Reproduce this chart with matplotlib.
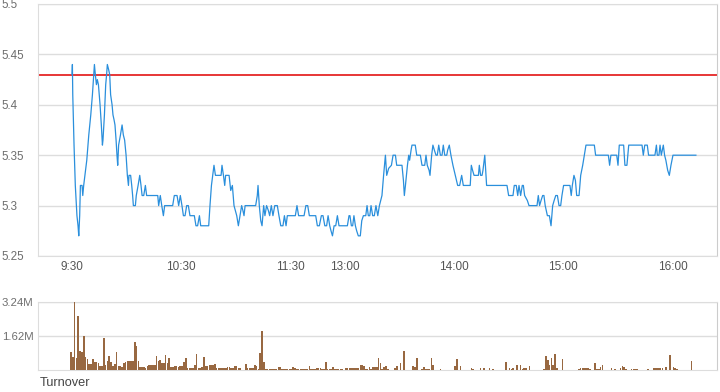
import matplotlib.pyplot as plt

plt.rcParams['font.family'] = ['Liberation Sans', 'DejaVu Sans']

# minutes since 9:30, lunch break removed (150 = 13:00)
price_minutes = [
    0, 0.2, 0.4, 1.1, 1.8, 2.7, 3.3, 3.7, 4.2, 4.6, 5.5, 5.9, 6.4, 7.1, 8.1, 9.2, 10.3, 11.2, 11.9, 12.3,
    12.8, 13.4, 13.9, 14.5, 15.4, 16.1, 16.7, 17.0, 17.8, 18.5, 19.0, 19.4, 20.1, 20.7, 21.2, 22.0, 22.5, 23.1, 23.6, 24.2,
    24.7, 25.1, 25.6, 26.6, 27.5, 28.2, 28.9, 29.7, 30.4, 31.0, 31.3, 32.2, 32.8, 33.3, 33.7, 34.8, 35.3, 36.3, 37.2, 37.9,
    38.5, 39.4, 40.3, 41.0, 47.1, 47.6, 48.5, 49.3, 50.2, 50.9, 55.3, 56.2, 57.7, 58.6, 59.5, 60.4, 61.2, 62.1, 63.0, 63.9,
    64.8, 67.2, 68.1, 69.0, 70.0, 70.7, 75.1, 75.8, 76.6, 77.3, 78.0, 78.8, 81.9, 82.4, 83.2, 83.9, 84.4, 86.3, 87.2, 88.1,
    89.0, 90.5, 91.4, 92.3, 93.2, 93.9, 94.5, 95.1, 100.9, 101.8, 102.2, 102.9, 103.7, 104.4, 105.3, 106.0, 106.9, 107.9, 108.6, 109.5,
    110.4, 111.4, 112.8, 113.7, 114.7, 115.9, 116.7, 117.6, 118.3, 122.7, 123.6, 124.5, 127.5, 128.5, 129.5, 130.4, 133.9, 134.8, 135.9, 137.0,
    137.9, 138.9, 139.9, 140.7, 141.6, 142.3, 143.1, 144.0, 144.9, 145.8, 146.7, 151.3, 152.2, 152.7, 153.5, 154.2, 154.9, 155.7, 156.4, 157.3,
    158.4, 159.2, 160.1, 161.4, 162.1, 162.8, 163.6, 164.3, 165.2, 166.1, 167.0, 168.0, 168.9, 169.6, 170.3, 171.2, 172.2, 172.9, 174.0, 175.5,
    176.4, 177.7, 178.4, 181.3, 182.1, 182.6, 183.2, 184.3, 185.0, 185.5, 186.3, 186.8, 188.6, 189.4, 191.4, 192.3, 193.8, 194.5, 195.2, 196.2,
    196.7, 197.6, 198.3, 199.1, 200.0, 200.7, 201.5, 202.4, 203.3, 204.0, 204.8, 205.9, 206.4, 207.3, 208.2, 209.3, 210.6, 211.9, 213.0, 214.1,
    215.0, 218.8, 219.4, 220.1, 220.9, 223.3, 223.8, 224.5, 225.3, 225.8, 226.8, 227.8, 239.0, 239.9, 242.3, 243.0, 244.1, 244.9, 245.6, 246.5,
    247.4, 248.0, 248.7, 250.2, 251.1, 255.5, 256.2, 256.9, 257.7, 258.6, 259.3, 260.0, 261.2, 262.3, 263.2, 264.1, 264.9, 265.8, 266.7, 267.6,
    268.5, 269.2, 270.1, 273.6, 274.3, 274.9, 275.8, 276.6, 277.3, 278.6, 279.5, 280.6, 281.5, 282.4, 287.0, 287.7, 294.7, 295.4, 296.1, 299.3,
    300.0, 300.7, 303.1, 303.8, 304.9, 305.9, 313.2, 313.9, 314.7, 316.1, 316.8, 320.3, 321.1, 321.6, 322.5, 323.1, 323.8, 324.9, 325.6, 326.3,
    327.3, 328.2, 329.1, 330.2, 342.8,
]
prices = [
    5.43, 5.44, 5.41, 5.36, 5.32, 5.29, 5.28, 5.27, 5.29, 5.32, 5.32, 5.31, 5.32, 5.33, 5.345, 5.37, 5.39, 5.41, 5.43, 5.44,
    5.43, 5.42, 5.425, 5.42, 5.40, 5.38, 5.36, 5.365, 5.39, 5.42, 5.43, 5.44, 5.435, 5.43, 5.41, 5.40, 5.39, 5.385, 5.38, 5.365,
    5.35, 5.34, 5.36, 5.37, 5.38, 5.37, 5.365, 5.35, 5.33, 5.32, 5.33, 5.33, 5.32, 5.31, 5.30, 5.30, 5.31, 5.32, 5.33, 5.32,
    5.31, 5.31, 5.32, 5.31, 5.31, 5.30, 5.31, 5.30, 5.29, 5.30, 5.30, 5.31, 5.31, 5.30, 5.31, 5.30, 5.29, 5.29, 5.30, 5.30,
    5.29, 5.29, 5.28, 5.28, 5.29, 5.28, 5.28, 5.30, 5.32, 5.33, 5.34, 5.33, 5.33, 5.34, 5.33, 5.32, 5.33, 5.33, 5.315, 5.32,
    5.30, 5.29, 5.28, 5.29, 5.30, 5.295, 5.29, 5.30, 5.30, 5.31, 5.32, 5.30, 5.285, 5.28, 5.30, 5.29, 5.30, 5.295, 5.29, 5.30,
    5.29, 5.30, 5.30, 5.29, 5.28, 5.28, 5.29, 5.28, 5.29, 5.29, 5.30, 5.29, 5.29, 5.30, 5.30, 5.29, 5.29, 5.28, 5.28, 5.29,
    5.29, 5.28, 5.28, 5.29, 5.28, 5.275, 5.27, 5.28, 5.28, 5.29, 5.28, 5.28, 5.29, 5.29, 5.28, 5.28, 5.29, 5.28, 5.275, 5.27,
    5.27, 5.285, 5.29, 5.29, 5.30, 5.29, 5.29, 5.30, 5.29, 5.29, 5.30, 5.29, 5.30, 5.305, 5.31, 5.33, 5.35, 5.33, 5.337, 5.34,
    5.35, 5.35, 5.34, 5.34, 5.325, 5.31, 5.32, 5.34, 5.35, 5.345, 5.355, 5.36, 5.36, 5.35, 5.35, 5.34, 5.34, 5.35, 5.34, 5.335,
    5.33, 5.35, 5.36, 5.355, 5.35, 5.35, 5.36, 5.35, 5.35, 5.36, 5.35, 5.35, 5.355, 5.36, 5.35, 5.34, 5.33, 5.32, 5.32, 5.33,
    5.32, 5.32, 5.34, 5.335, 5.33, 5.33, 5.34, 5.33, 5.33, 5.335, 5.35, 5.32, 5.32, 5.31, 5.31, 5.32, 5.32, 5.31, 5.32, 5.31,
    5.32, 5.32, 5.31, 5.305, 5.30, 5.30, 5.31, 5.30, 5.305, 5.31, 5.31, 5.30, 5.29, 5.29, 5.28, 5.30, 5.305, 5.31, 5.31, 5.30,
    5.30, 5.31, 5.32, 5.32, 5.31, 5.32, 5.33, 5.325, 5.31, 5.31, 5.33, 5.34, 5.35, 5.36, 5.36, 5.35, 5.35, 5.34, 5.35, 5.35,
    5.34, 5.36, 5.36, 5.34, 5.34, 5.36, 5.36, 5.35, 5.36, 5.36, 5.35, 5.35, 5.36, 5.35, 5.35, 5.36, 5.35, 5.36, 5.35, 5.345,
    5.335, 5.33, 5.34, 5.35, 5.35,
]
prev_close = 5.43

# turnover per minute, in millions
turnover = [
    0.86, 0.64, 3.24, 0.56, 2.59, 0.91, 0.85, 1.63, 0.61, 0.53,
    0.29, 0.29, 0.53, 0.40, 0.40, 0.35, 0.19, 0.20, 1.53, 0.24,
    0.45, 0.67, 0.40, 0.19, 0.29, 0.86, 0.19, 0.19, 0.16, 0.32,
    0.40, 0.43, 0.43, 0.43, 0.43, 1.34, 1.15, 0.43, 0.13, 0.13,
    0.16, 0.11, 0.19, 0.24, 0.24, 0.24, 0.24, 0.65, 0.43, 0.48,
    0.32, 0.32, 0.70, 0.32, 0.56, 0.16, 0.16, 0.19, 0.19, 0.16,
    0.19, 0.19, 0.40, 0.56, 0.11, 0.11, 0.11, 0.11, 0.24, 0.77,
    0.11, 0.11, 0.16, 0.64, 0.19, 0.19, 0.24, 0.24, 0.24, 0.29,
    0.11, 0.10, 0.10, 0.11, 0.11, 0.11, 0.16, 0.16, 0.11, 0.11,
    0.21, 0.21, 0.08, 0.08, 0.00, 0.00, 0.29, 0.08, 0.08, 0.08,
    0.08, 0.22, 0.18, 0.05, 0.81, 1.87, 0.40, 0.05, 0.04, 0.04,
    0.04, 0.04, 0.04, 0.04, 0.13, 0.13, 0.04, 0.04, 0.04, 0.04,
    0.04, 0.04, 0.13, 0.08, 0.04, 0.04, 0.04, 0.03, 0.03, 0.03,
    0.03, 0.19, 0.04, 0.04, 0.04, 0.10, 0.10, 0.10, 0.03, 0.03,
    0.38, 0.03, 0.03, 0.03, 0.13, 0.03, 0.06, 0.06, 0.06, 0.06,
    0.00, 0.10, 0.10, 0.10, 0.10, 0.10, 0.10, 0.10, 0.10, 0.26,
    0.26, 0.20, 0.07, 0.07, 0.15, 0.04, 0.16, 0.16, 0.16, 0.56,
    0.33, 0.07, 0.16, 0.20, 0.07, 0.02, 0.02, 0.02, 0.10, 0.20,
    0.02, 0.31, 0.00, 0.90, 0.02, 0.00, 0.00, 0.02, 0.21, 0.13,
    0.56, 0.02, 0.02, 0.07, 0.16, 0.07, 0.07, 0.07, 0.56, 0.26,
    0.02, 0.02, 0.02, 0.07, 0.02, 0.00, 0.00, 0.00, 0.00, 0.00,
    0.00, 0.21, 0.51, 0.02, 0.21, 0.00, 0.00, 0.00, 0.00, 0.00,
    0.11, 0.07, 0.00, 0.00, 0.00, 0.11, 0.02, 0.11, 0.02, 0.02,
    0.11, 0.02, 0.07, 0.00, 0.00, 0.00, 0.00, 0.00, 0.00, 0.36,
    0.02, 0.11, 0.05, 0.08, 0.00, 0.23, 0.02, 0.26, 0.05, 0.08,
    0.11, 0.02, 0.21, 0.00, 0.00, 0.00, 0.00, 0.00, 0.00, 0.00,
    0.07, 0.67, 0.46, 0.26, 0.57, 0.26, 0.75, 0.11, 0.02, 0.00,
    0.51, 0.00, 0.00, 0.00, 0.00, 0.00, 0.00, 0.00, 0.00, 0.05,
    0.11, 0.11, 0.11, 0.11, 0.11, 0.07, 0.02, 0.02, 0.31, 0.07,
    0.07, 0.16, 0.26, 0.02, 0.02, 0.02, 0.02, 0.11, 0.02, 0.07,
    0.00, 0.00, 0.11, 0.21, 0.13, 0.07, 0.02, 0.02, 0.07, 0.07,
    0.07, 0.07, 0.02, 0.02, 0.02, 0.02, 0.02, 0.07, 0.02, 0.00,
    0.11, 0.08, 0.08, 0.08, 0.11, 0.11, 0.02, 0.16, 0.02, 0.70,
    0.02, 0.16, 0.10, 0.04, 0.00, 0.00, 0.00, 0.00, 0.00, 0.00,
    0.00, 0.41, 0.00,
]

time_ticks = [0, 60, 120, 150, 210, 270, 330]
time_labels = ['9:30', '10:30', '11:30', '13:00', '14:00', '15:00', '16:00']
price_ticks = [5.25, 5.3, 5.35, 5.4, 5.45, 5.5]
price_labels = ['5.25', '5.3', '5.35', '5.4', '5.45', '5.5']
vol_ticks = [1.62, 3.24]
vol_labels = ['1.62M', '3.24M']

grid_c = '#dddddd'
label_c = '#6e6e6e'

fig = plt.figure(figsize=(7.2, 3.92), dpi=100)
ax = fig.add_axes([38 / 720, 1 - 256 / 392, 679 / 720, 252 / 392])
axv = fig.add_axes([38 / 720, 1 - 370 / 392, 679 / 720, 68 / 392])

# price panel
ax.plot(price_minutes, prices, color='#2a8fdc', lw=0.9, zorder=3)
ax.axhline(prev_close, color='#e00000', lw=1.1, zorder=2)
ax.set_xlim(-18.7, 354.4)
ax.set_ylim(5.25, 5.5)
ax.set_yticks(price_ticks)
ax.set_yticklabels(price_labels)
ax.set_xticks(time_ticks)
ax.set_xticklabels(time_labels)
ax.yaxis.grid(True, color=grid_c, lw=1)
ax.set_axisbelow(True)
ax.tick_params(axis='both', length=0, labelsize=8.5, colors='#555555')
ax.tick_params(axis='y', pad=26, labelsize=8.4, colors=label_c)
for lab in ax.get_yticklabels():
    lab.set_horizontalalignment('left')
for side in ['left', 'bottom', 'top']:
    ax.spines[side].set_color(grid_c)
ax.spines['right'].set_color('#cccccc')

# turnover panel
axv.bar([m - 1 for m in range(len(turnover))], turnover, width=0.9, align='edge',
        color='#986841', lw=0, zorder=3)
axv.set_xlim(-18.7, 354.4)
axv.set_ylim(0, 3.24)
axv.set_yticks(vol_ticks)
axv.set_yticklabels(vol_labels)
axv.set_xticks([])
axv.yaxis.grid(True, color=grid_c, lw=1)
axv.set_axisbelow(True)
axv.tick_params(axis='y', length=0, pad=26, labelsize=8.2, colors=label_c)
for lab in axv.get_yticklabels():
    lab.set_horizontalalignment('left')
for side in ['left', 'bottom', 'top']:
    axv.spines[side].set_color(grid_c)
axv.spines['right'].set_color('#cccccc')

fig.text(40 / 720, 1 - 383 / 392, 'Turnover', fontsize=9.2, color='#444444',
         ha='left', va='center')

fig.savefig('out.png', dpi=100)
